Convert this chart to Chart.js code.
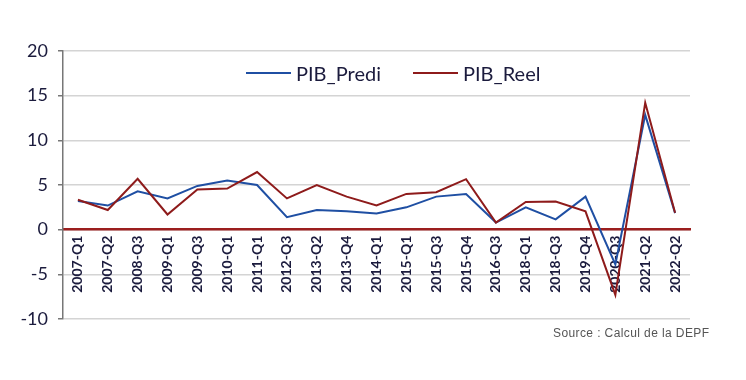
<!DOCTYPE html>
<html lang="fr">
<head>
  <meta charset="UTF-8">
  <title>PIB prédit vs réel</title>
  <script src="https://cdn.jsdelivr.net/npm/chart.js"></script>
  <style>
    body {
      margin: 0;
      padding: 0;
      background: #fff;
    }

    #wrap {
      position: relative;
      width: 746px;
      height: 380px;
    }

    #source {
      position: absolute;
      left: 553px;
      top: 326px;
      font-family: 'Liberation Sans', Arial, sans-serif;
      font-size: 12px;
      letter-spacing: 0.4px;
      color: #555;
    }

    #legend {
      position: absolute;
      left: 246px;
      top: 61px;
      display: flex;
      font-family: 'Lato', sans-serif;
      font-size: 20px;
      color: #1b1b3d;
    }

    .item {
      display: flex;
      align-items: center;
      margin-right: 32px;
    }

    .swatch {
      display: inline-block;
      width: 45px;
      height: 2.5px;
      margin-right: 5px;
    }
  </style>
</head>
<body>
  <div id="wrap">
    <canvas id="pibChart" width="746" height="380"></canvas>
    <div id="legend"></div>
    <div id="source">Source : Calcul de la DEPF</div>
  </div>

  <script>
    const quarters = ['2007-Q1', '2007-Q2', '2008-Q3', '2009-Q1', '2009-Q3', '2010-Q1', '2011-Q1',
      '2012-Q3', '2013-Q2', '2013-Q4', '2014-Q1', '2015-Q1', '2015-Q3', '2015-Q4',
      '2016-Q3', '2018-Q1', '2018-Q3', '2019-Q4', '2020-Q3', '2021-Q2', '2022-Q2'];

    const pibPredi = [3.2, 2.7, 4.3, 3.5, 4.9, 5.5, 5.0, 1.4, 2.2, 2.05, 1.8,
      2.5, 3.7, 4.0, 0.8, 2.5, 1.15, 3.7, -3.9, 12.85, 1.85];

    const pibReel = [3.35, 2.2, 5.7, 1.7, 4.5, 4.6, 6.45, 3.5, 5.0, 3.7, 2.7,
      4.0, 4.2, 5.65, 0.8, 3.1, 3.15, 2.05, -7.3, 14.2, 1.9];

    const yMin = -10;
    const yMax = 20;
    const yStep = 5;

    const navy = '#1b1b3d';

    const ctx = document.getElementById('pibChart').getContext('2d');
    const pibChart = new Chart(ctx, {
      type: 'line',
      data: {
        labels: quarters,
        datasets: [
          {
            label: 'PIB_Reel',
            data: pibReel,
            borderColor: '#8e1b1b',
            borderWidth: 2,
            pointRadius: 0,
            tension: 0
          },
          {
            label: 'PIB_Predi',
            data: pibPredi,
            borderColor: '#1f4fa3',
            borderWidth: 2,
            pointRadius: 0,
            tension: 0
          }
        ]
      },
      options: {
        responsive: false,
        animation: false,
        layout: {
          padding: { left: 0, right: 56, top: 51, bottom: 61 }
        },
        plugins: {
          tooltip: { enabled: false },
          legend: { display: false }
        },
        scales: {
          x: {
            position: { y: 0 },
            offset: true,
            afterFit: scale => { scale.height = 0; },
            grid: {
              display: true,
              drawOnChartArea: false,
              drawTicks: false
            },
            border: {
              color: '#9b1e1e',
              width: 2.5
            },
            ticks: {
              autoSkip: false,
              minRotation: 90,
              maxRotation: 90,
              padding: 6,
              color: navy,
              font: { family: 'Lato', size: 14, weight: 'bold' }
            }
          },
          y: {
            min: yMin,
            max: yMax,
            afterFit: scale => { scale.width = 63; },
            grid: {
              color: '#d4d4d4',
              lineWidth: 1.5,
              tickColor: '#777',
              tickLength: 5
            },
            border: {
              color: '#777',
              width: 1.5
            },
            ticks: {
              stepSize: yStep,
              padding: 10,
              color: navy,
              font: { family: 'Lato', size: 18 }
            }
          }
        }
      }
    });

    // legend in the order of the original (Predi first), drawn in html
    const legendEl = document.getElementById('legend');
    pibChart.data.datasets.slice().reverse().forEach(ds => {
      const item = document.createElement('span');
      item.className = 'item';
      item.innerHTML = '<span class="swatch" style="background:' + ds.borderColor + '"></span>' + ds.label;
      legendEl.appendChild(item);
    });
  </script>
</body>
</html>
